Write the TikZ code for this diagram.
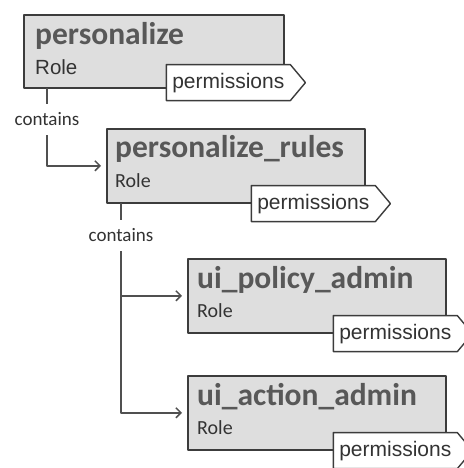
\documentclass[tikz,border=0pt]{standalone}
\usepackage{fontspec}
\setmainfont{Liberation Sans}
\newfontfamily\labelfont{Carlito}
\usetikzlibrary{arrows.meta,calc,shapes.symbols}
\definecolor{boxline}{HTML}{3C3C3C}
\definecolor{rolegrey}{HTML}{DEDEDE}
\definecolor{titlegrey}{HTML}{585858}
\definecolor{textgrey}{HTML}{333333}
\definecolor{linegrey}{HTML}{505050}
\tikzset{
  role/.style={draw=boxline,fill=rolegrey,line width=1.6pt,anchor=north west,
    minimum width=258pt,minimum height=74pt,inner sep=0pt},
  rolename/.style={anchor=base west,inner sep=0pt,text=titlegrey,
    font=\labelfont\fontsize{31.5}{33}\selectfont\bfseries},
  roletype/.style={anchor=base west,inner sep=0pt,text=textgrey,
    font=\labelfont\fontsize{20}{22}\selectfont},
  perm/.style={signal,signal to=east,signal pointer angle=100,anchor=west,
    draw=boxline,fill=white,line width=1.4pt,minimum height=36pt,
    inner xsep=6pt,text=textgrey,font=\fontsize{21}{23}\selectfont},
  conn/.style={draw=linegrey,line width=1.5pt,shorten >=5pt,
    -{Straight Barb[length=5pt,width=10pt]}},
  contains/.style={fill=white,inner xsep=1pt,inner ysep=9pt,text=textgrey,
    font=\labelfont\fontsize{19}{20}\selectfont}
}
\begin{document}
\begin{tikzpicture}[x=1pt,y=-1pt,line cap=round,line join=round]
\useasboundingbox (0,0) rectangle (463,468);
% roles
\node[role,minimum width=260pt,minimum height=73pt] (b1) at (23,14) {};
\node[role] (b2) at (106,128) {};
\node[role] (b3) at (187,258) {};
\node[role] (b4) at (187,375) {};
\node[rolename] (t1) at ($(b1.north west)+(12,31)$) {personalize};
\node[roletype,font=\fontsize{20.5}{22}\selectfont] (r1) at ($(b1.north west)+(12,61)$) {Role};
\node[rolename] (t2) at ($(b2.north west)+(9,29)$) {personalize\_rules};
\node[roletype] (r2) at ($(b2.north west)+(9,59)$) {Role};
\node[rolename] (t3) at ($(b3.north west)+(10,30)$) {ui\_policy\_admin};
\node[roletype] (r3) at ($(b3.north west)+(10,59)$) {Role};
\node[rolename] (t4) at ($(b4.north west)+(10,30)$) {ui\_action\_admin};
\node[roletype] (r4) at ($(b4.north west)+(10,59)$) {Role};
% permission tags
\node[perm] (p1) at ($(b1.south east)+(-119,-6)$) {permissions};
\node[perm] (p2) at ($(b2.south east)+(-115,0)$) {permissions};
\node[perm] (p3) at ($(b3.south east)+(-114,0)$) {permissions};
\node[perm] (p4) at ($(b4.south east)+(-114,0)$) {permissions};
% contains links
\coordinate (c1) at ($(b1.south west)+(24,0)$);
\coordinate (c2) at ($(b2.south west)+(15,0)$);
\draw[conn] (c1) |- node[contains,pos=.2] {contains} (b2.west);
\draw[conn] (c2) |- node[contains,pos=.076] {contains} (b4.west);
\draw[conn] (b3.west -| c2) -- (b3.west);
\end{tikzpicture}
\end{document}
